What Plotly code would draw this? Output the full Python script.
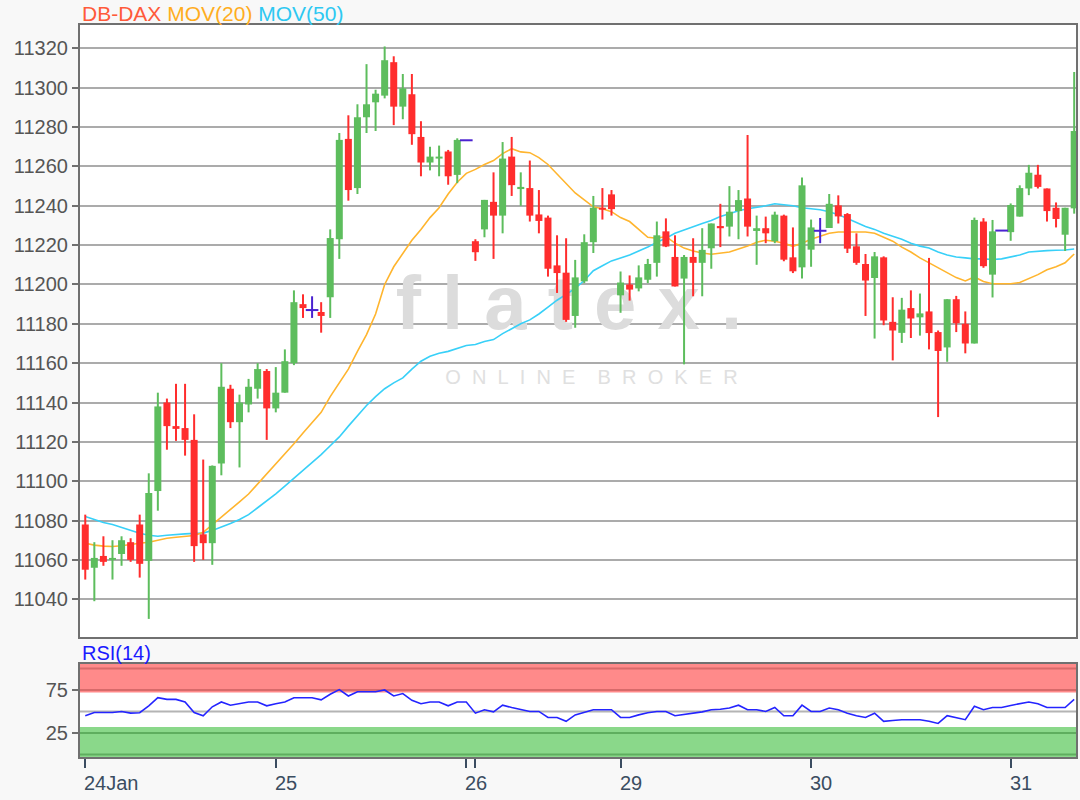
import plotly.graph_objects as go

# ---------------- data ----------------
day_labels = ["24Jan", "25", "26", "29", "30", "31"]
day_tick_idx = [0, 21, 42, 59, 80, 102]
extra_tick_idx = [43]

open_ = [11078, 11056, 11062, 11060, 11063, 11069, 11078, 11059.5, 11095, 11140,
         11128, 11127, 11121, 11073, 11068.5, 11109, 11147, 11130, 11139, 11147,
         11156, 11137, 11145, 11160, 11190, 11187, 11186, 11193.5, 11223, 11274,
         11249, 11285, 11292.6, 11296, 11313, 11290.4, 11296.7, 11275, 11262, 11264,
         11267.6, 11255.7, 11273.3, 11222, 11228, 11242, 11235, 11265, 11248.5, 11249,
         11235.6, 11234, 11209.7, 11206, 11184, 11201.6, 11221.5, 11239, 11245.8, 11194.5,
         11200, 11198, 11202.4, 11211, 11227, 11214, 11203, 11214, 11211, 11218.4,
         11229.7, 11229.4, 11237.3, 11243.7, 11227.2, 11228.6, 11222, 11235, 11213.8, 11208.7,
         11217.7, 11227.3, 11228.7, 11240.2, 11235.8, 11219.4, 11210.4, 11203.3, 11213.8, 11181,
         11175.4, 11188, 11183.3, 11186.3, 11175.8, 11168, 11192.5, 11180, 11170, 11232,
         11205, 11227.4, 11226.6, 11234.5, 11248.8, 11255.8, 11248.8, 11239, 11225.3, 11238.7]
high = [11083, 11069, 11072, 11070, 11072, 11071, 11083, 11104, 11145, 11142,
        11149.5, 11149.5, 11134, 11111, 11108, 11160, 11149, 11144, 11152, 11160,
        11157, 11158, 11167, 11197, 11195, 11194, 11191, 11228, 11277, 11286,
        11291.6, 11312, 11299, 11321, 11316, 11307, 11307, 11283, 11270, 11270.6,
        11268.4, 11274.3, 11273.3, 11223, 11243, 11257, 11272.4, 11275, 11257, 11263,
        11248, 11235, 11225, 11223.5, 11212.5, 11225.5, 11245, 11249, 11248, 11206.6,
        11204.6, 11209.7, 11213, 11232, 11233.6, 11225, 11215, 11223.5, 11228.6, 11231,
        11241, 11250, 11248, 11276, 11235, 11234.5, 11237, 11235.5, 11229, 11254.4,
        11233, 11233.8, 11246, 11245.3, 11236.3, 11226, 11215.5, 11216.5, 11214.3, 11193.5,
        11193.2, 11197, 11195.4, 11213.5, 11176.6, 11192.5, 11194.2, 11186.3, 11234, 11233.7,
        11232.8, 11227.4, 11241.2, 11250.4, 11260.8, 11260.8, 11248.8, 11241.7, 11239, 11308]
low = [11050, 11039, 11057, 11050, 11057, 11059, 11051, 11030, 11085, 11116,
       11120.5, 11113, 11059, 11060, 11057.5, 11103, 11127, 11107, 11135, 11142,
       11121, 11135, 11145, 11159, 11183, 11183, 11175.5, 11183, 11213, 11242.6,
       11246, 11277, 11278, 11294.6, 11281, 11284, 11271, 11255, 11258, 11255,
       11250.7, 11251.5, 11273.3, 11212, 11224, 11213, 11226, 11245, 11240, 11232,
       11226, 11204, 11195.7, 11181, 11178, 11200.7, 11216, 11233, 11235, 11185.6,
       11191.8, 11196.5, 11200.7, 11204, 11219, 11199, 11159.4, 11194, 11194, 11208,
       11219, 11224.4, 11223, 11224.4, 11210, 11221, 11221, 11211.8, 11205.8, 11203,
       11209, 11221, 11228.7, 11231, 11216, 11210, 11184, 11172.5, 11179.3, 11161.4,
       11170.3, 11172.8, 11174, 11167, 11132.6, 11160.7, 11175.8, 11165, 11170, 11208.5,
       11193.4, 11227.4, 11222.2, 11234.5, 11245.4, 11248.8, 11232, 11229, 11217, 11236]
close = [11055, 11061, 11059, 11061, 11070, 11060, 11058, 11094, 11138, 11128,
         11126.6, 11121, 11067, 11068.5, 11107.8, 11148, 11130, 11140, 11148, 11157,
         11137, 11145, 11161, 11191, 11188, 11187, 11184, 11223.6, 11273.5, 11248,
         11285, 11291.6, 11297, 11314, 11290.4, 11299.7, 11276.4, 11262, 11265, 11265,
         11255, 11273.5, 11273.3, 11216.4, 11243, 11235, 11264, 11250.5, 11249.6, 11235,
         11232.3, 11208, 11205.8, 11182, 11203.6, 11221.5, 11239, 11238, 11238.3, 11201,
         11197.4, 11203.6, 11210.4, 11225, 11219.3, 11199, 11214, 11211, 11217.6, 11231,
         11228.6, 11237, 11242.9, 11229.4, 11228.6, 11226, 11235.5, 11212.6, 11206.7, 11250.4,
         11229, 11227.3, 11241, 11234.6, 11218.2, 11211, 11202, 11214.3, 11181.7, 11176.6,
         11187.2, 11182.7, 11185.3, 11175.3, 11166.2, 11192.5, 11180.3, 11170, 11232.8, 11209.3,
         11227, 11227.4, 11240.4, 11249, 11256.8, 11249.6, 11237.3, 11233.3, 11239, 11278]

mov20 = [11068.5, 11067.5, 11067, 11066.8, 11067.2, 11068, 11068.5, 11069, 11070, 11071,
         11071.5, 11072, 11072.4, 11074, 11078, 11082, 11086, 11089.5, 11093.5, 11098.5,
         11103.7, 11108.5, 11113.5, 11119, 11124.5, 11129.5, 11135, 11143, 11150, 11157,
         11166, 11174.5, 11185, 11200, 11209, 11216, 11222.5, 11228, 11234, 11239,
         11246, 11252, 11256.5, 11258.5, 11261, 11263, 11266.5, 11269, 11267.4, 11267,
         11264.5, 11261, 11256, 11251, 11246.5, 11243, 11239.5, 11238.5, 11237, 11234,
         11232, 11228, 11224, 11223.5, 11224.4, 11221, 11218.5, 11217, 11216, 11215.4,
         11215.8, 11216.5, 11218, 11219.5, 11221.5, 11222.5, 11222, 11221, 11219.4, 11221,
         11223, 11224.5, 11226, 11226.7, 11226.7, 11226.7, 11226.7, 11226, 11224, 11222,
         11219, 11216.5, 11213.5, 11211, 11208.5, 11206, 11203.5, 11201.8, 11203.8, 11201.5,
         11200.4, 11200.4, 11200.4, 11201, 11203, 11205, 11207.5, 11209, 11211, 11215.5]
mov50 = [11082, 11080.5, 11079, 11078, 11076.5, 11075, 11073.5, 11072.5, 11072, 11072.5,
         11073, 11073.2, 11073.5, 11073.6, 11075, 11076.6, 11078.5, 11080.5, 11083, 11086.5,
         11090, 11093.6, 11097.5, 11101.5, 11105.4, 11109.5, 11113.5, 11118, 11122.5, 11128,
         11133.5, 11138.5, 11143, 11147, 11150, 11152.5, 11157, 11161, 11163.5, 11165,
         11166, 11167.5, 11169, 11169.5, 11171, 11172, 11175, 11177.5, 11180, 11182,
         11185, 11188.5, 11192, 11195, 11198, 11202, 11207, 11209.5, 11212, 11213.5,
         11215, 11217, 11219, 11221.5, 11223.5, 11226, 11227.8, 11229.5, 11231, 11232.5,
         11234.5, 11236, 11237.5, 11238.5, 11239.2, 11240, 11241, 11240.5, 11240, 11239,
         11238.5, 11238, 11237, 11235.5, 11233.5, 11231.5, 11229.5, 11228, 11226, 11224.5,
         11223, 11221, 11219.5, 11218.5, 11216.5, 11215, 11214, 11213.5, 11213, 11213,
         11212.7, 11213, 11214, 11215, 11216.5, 11217, 11217.2, 11217.4, 11217.5, 11218]
rsi14 = [45, 48.8, 48.8, 48.8, 50, 48, 48.5, 56.5, 66, 64,
         64, 61, 48.8, 45, 55.4, 61, 57.3, 59, 61, 61,
         56.5, 59, 61, 66, 66, 66, 63.5, 70, 75.4, 68,
         73, 73, 73, 75, 68, 70.8, 63, 59, 61, 61,
         56.5, 61, 61, 48, 52, 49.6, 57.3, 54.6, 52, 50,
         50, 43, 43, 38.5, 46, 49, 52, 52, 52, 43,
         43, 46, 48.5, 50, 50, 45, 46.5, 47.5, 49.5, 52,
         52.5, 54, 57.3, 52, 52, 50, 54.6, 45, 45, 57.3,
         50, 50, 54, 52, 48, 45, 43, 48, 38.5, 39.5,
         40.4, 40.4, 40.4, 38.5, 36, 45, 42.3, 40.4, 56, 52,
         54.6, 54.6, 57, 59, 61, 59, 54.6, 54.6, 54.6, 64]

# ---------------- styling ----------------
FONT = "Liberation Sans, Arial, sans-serif"
GREEN = "#5dbd5d"
RED = "#ff2d2d"
DOJI = "#4a22d0"
ORANGE = "#ffb52e"
CYAN = "#38d0f8"

n = len(open_)
idx = list(range(n))
up = [i for i in idx if close[i] > open_[i]]
down = [i for i in idx if close[i] < open_[i]]
flat = [i for i in idx if close[i] == open_[i]]


def segments(sel, a, b):
    xs, ys = [], []
    for i in sel:
        xs += [i, i, None]
        ys += [a[i], b[i], None]
    return xs, ys


fig = go.Figure()

# watermark (behind the candles)
fig.add_trace(go.Scatter(x=[53.3], y=[11187], mode="text", text=["f l a t e x ."],
                         textfont=dict(family=FONT, size=76, color="#dcdcdc", weight="bold"),
                         hoverinfo="skip", showlegend=False, xaxis="x", yaxis="y"))
fig.add_trace(go.Scatter(x=[55.8], y=[11152], mode="text",
                         text=["\u00a0\u00a0".join("ONLINE") + "\u00a0\u00a0\u00a0\u00a0" + "\u00a0\u00a0".join("BROKER")],
                         textfont=dict(family=FONT, size=20, color="#e0e0e0"),
                         hoverinfo="skip", showlegend=False, xaxis="x", yaxis="y"))

# moving averages
fig.add_trace(go.Scatter(x=idx, y=mov50, mode="lines", line=dict(color=CYAN, width=1.6),
                         hoverinfo="skip", showlegend=False))
fig.add_trace(go.Scatter(x=idx, y=mov20, mode="lines", line=dict(color=ORANGE, width=1.6),
                         hoverinfo="skip", showlegend=False))

# candles: wicks then bodies
for sel, col in [(up, GREEN), (down, RED), (flat, DOJI)]:
    wx, wy = segments(sel, low, high)
    fig.add_trace(go.Scatter(x=wx, y=wy, mode="lines", line=dict(color=col, width=2),
                             hoverinfo="skip", showlegend=False))
for sel, col in [(up, GREEN), (down, RED)]:
    bx, by = segments(sel, open_, close)
    fig.add_trace(go.Scatter(x=bx, y=by, mode="lines", line=dict(color=col, width=7),
                             hoverinfo="skip", showlegend=False))
fig.add_trace(go.Scatter(x=flat, y=[close[i] for i in flat], mode="markers",
                         marker=dict(symbol="line-ew", size=9, line=dict(color=DOJI, width=2)),
                         hoverinfo="skip", showlegend=False))

# RSI
fig.add_trace(go.Scatter(x=idx, y=rsi14, mode="lines", line=dict(color="#2424ff", width=1.6),
                         xaxis="x2", yaxis="y2", hoverinfo="skip", showlegend=False))

MAIN_BOTTOM = 0.16393
RSI_TOP = 0.12705

shapes = [
    dict(type="rect", xref="x2 domain", x0=0, x1=1, yref="y2", y0=72, y1=105.2,
         fillcolor="#ff8a8a", line=dict(width=0), layer="below"),
    dict(type="rect", xref="x2 domain", x0=0, x1=1, yref="y2", y0=-3, y1=32,
         fillcolor="#8ad88a", line=dict(width=0), layer="below"),
]
for lv, col in [(100, "#d86a6a"), (75, "#d86a6a"), (25, "#5fae5f"), (0, "#5fae5f"), (50, "#b4b4b4")]:
    shapes.append(dict(type="line", xref="x2 domain", x0=0, x1=1, yref="y2", y0=lv, y1=lv,
                       line=dict(color=col, width=2), layer="below"))

annotations = [
    dict(xref="paper", x=0, xanchor="left", yref="paper", y=1, yanchor="bottom", yshift=-2,
         showarrow=False, font=dict(family=FONT, size=21),
         text="<span style='color:#ff5a3a'>DB-DAX</span> <span style='color:#ffad1f'>MOV(20)</span> "
              "<span style='color:#2ec8f2'>MOV(50)</span>"),
    dict(xref="paper", x=0, xanchor="left", yref="paper", y=RSI_TOP, yanchor="bottom", yshift=-2,
         showarrow=False, font=dict(family=FONT, size=20, color="#1a1aff"), text="RSI(14)"),
]
for lab, pos in zip(day_labels, day_tick_idx):
    annotations.append(dict(xref="x2", x=pos, xanchor="left", xshift=-3, yref="paper", y=0,
                            yanchor="top", yshift=-13, showarrow=False, text=lab,
                            font=dict(family=FONT, size=20, color="#3b4d61")))

xrange = [-0.58, 109.2]
fig.update_layout(
    width=1080, height=800,
    margin=dict(l=80, r=2, t=25, b=43),
    paper_bgcolor="#f8f8f8", plot_bgcolor="#ffffff",
    font=dict(family=FONT, size=20, color="#555555"),
    showlegend=False, hovermode=False,
    shapes=shapes, annotations=annotations,
    xaxis=dict(domain=[0, 1], anchor="y", range=xrange, showticklabels=False, ticks="",
               showgrid=False, zeroline=False, showline=True, mirror=True,
               linecolor="#707070", linewidth=2),
    yaxis=dict(domain=[MAIN_BOTTOM, 1], anchor="x", range=[11020.8, 11331.9],
               tickvals=list(range(11040, 11321, 20)), tickformat="d", ticks="outside", ticklen=6,
               tickcolor="#707070", tickwidth=1.5, showgrid=True, gridcolor="#ababab",
               gridwidth=2, zeroline=False, showline=True, mirror=True,
               linecolor="#707070", linewidth=2, tickfont=dict(size=20, color="#555555")),
    xaxis2=dict(domain=[0, 1], anchor="y2", range=xrange, matches="x",
                tickvals=day_tick_idx + extra_tick_idx, ticktext=[""] * 7,
                ticks="outside", ticklen=9, tickwidth=2, tickcolor="#3b4d61",
                showgrid=False, zeroline=False, showline=True, mirror=True,
                linecolor="#707070", linewidth=2),
    yaxis2=dict(domain=[0, RSI_TOP], anchor="x2", range=[-3, 105.2], tickvals=[25, 75],
                ticks="outside", ticklen=6, tickcolor="#707070", tickwidth=1.5,
                showgrid=False, zeroline=False, showline=True, mirror=True,
                linecolor="#707070", linewidth=2, tickfont=dict(size=20, color="#555555")),
)

fig.write_html("out.html", config={"displayModeBar": False},
               post_script="document.body.style.margin='0px';")
